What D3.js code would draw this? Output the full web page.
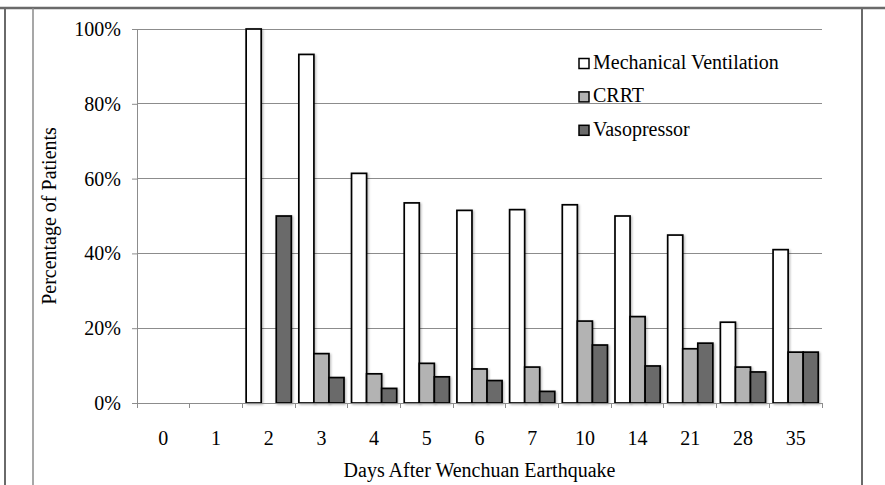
<!DOCTYPE html>
<html><head><meta charset="utf-8">
<script src="https://cdn.jsdelivr.net/npm/d3@7"></script>
<style>body{margin:0;background:#fff} svg{display:block;font-family:'Liberation Serif','Times New Roman',serif} svg text{font-family:'Liberation Serif','Times New Roman',serif}</style>
</head><body><svg id="chart" width="885" height="485"></svg>
<script>
// Share of patients receiving each organ support, by day after the earthquake
const days = ["0","1","2","3","4","5","6","7","10","14","21","28","35"];
const seriesNames = ["Mechanical Ventilation","CRRT","Vasopressor"];
const ventilation = [0,0,100,93.2,61.4,53.5,51.5,51.7,53.0,50.0,44.9,21.6,41.0];
const crrt        = [0,0,0,13.2,7.8,10.6,9.1,9.6,21.9,23.1,14.5,9.6,13.6];
const vasopressor = [0,0,50,6.8,3.9,7.0,6.0,3.1,15.5,9.9,16.0,8.3,13.6];
const yTicks = [0,20,40,60,80,100];
const colors = ["#ffffff","#b3b3b3","#6b6b6b"];

const svg = d3.select("#chart");
const font = "'Liberation Serif','Times New Roman',serif";
const m = {left:137, right:822, top:29, bottom:403};

// page frame lines
const frame = svg.append("g").attr("fill","none");
frame.append("line").attr("x1",0).attr("x2",885).attr("y1",8).attr("y2",8).attr("stroke","#6a6a6a").attr("stroke-width",2.5);
frame.append("line").attr("x1",5).attr("x2",5).attr("y1",7).attr("y2",485).attr("stroke","#6a6a6a").attr("stroke-width",2);
frame.append("line").attr("x1",33).attr("x2",33).attr("y1",8).attr("y2",485).attr("stroke","#8a8a8a").attr("stroke-width",1.5);
frame.append("line").attr("x1",862).attr("x2",862).attr("y1",7).attr("y2",485).attr("stroke","#6a6a6a").attr("stroke-width",2);

// soft shadow under bars
const defs = svg.append("defs");
const f = defs.append("filter").attr("id","shadow").attr("x","-30%").attr("y","-10%").attr("width","160%").attr("height","120%");
f.append("feDropShadow").attr("dx",1.2).attr("dy",1).attr("stdDeviation",1.2).attr("flood-color","#000").attr("flood-opacity",0.28);

const x0 = d3.scaleBand().domain(days).range([m.left, m.right]);
const x1 = d3.scaleBand().domain(seriesNames).range([0, x0.bandwidth()]).paddingInner(0).paddingOuter(0.25);
const y = d3.scaleLinear().domain([0,100]).range([m.bottom, m.top]);

// gridlines
svg.append("g").selectAll("line").data(yTicks.filter(t => t > 0)).join("line")
  .attr("x1", m.left).attr("x2", m.right)
  .attr("y1", d => y(d)).attr("y2", d => y(d))
  .attr("stroke","#8c8c8c").attr("stroke-width",1).attr("shape-rendering","crispEdges");

// y axis
const yAxis = svg.append("g").attr("transform",`translate(${m.left},0)`)
  .call(d3.axisLeft(y).tickValues(yTicks).tickFormat(d => d + "%").tickSize(5).tickPadding(11))
  .attr("font-family", font);
yAxis.select(".domain").attr("stroke","#8c8c8c");
yAxis.selectAll(".tick line").attr("stroke","#8c8c8c");
yAxis.selectAll("text").attr("font-family",font).attr("font-size",20).attr("fill","#000");

// bars
const seriesData = [ventilation, crrt, vasopressor];
const groups = svg.append("g").selectAll("g").data(seriesData).join("g")
  .attr("fill", (d,i) => colors[i]).attr("filter","url(#shadow)");
groups.each(function(vals, si){
  d3.select(this).selectAll("rect")
    .data(vals.map((v,i) => ({day: days[i], v})).filter(d => d.v > 0))
    .join("rect")
    .attr("x", d => x0(d.day) + x1(seriesNames[si]))
    .attr("width", x1.bandwidth())
    .attr("y", d => y(d.v))
    .attr("height", d => y(0) - y(d.v))
    .attr("stroke","#000").attr("stroke-width",1.7);
});

// x axis with ticks at category boundaries
svg.append("line").attr("x1",m.left).attr("x2",m.right).attr("y1",m.bottom).attr("y2",m.bottom)
  .attr("stroke","#8c8c8c").attr("shape-rendering","crispEdges");
const bounds = days.map(d => x0(d)).concat([m.right]);
svg.append("g").selectAll("line").data(bounds).join("line")
  .attr("x1", d => d).attr("x2", d => d).attr("y1", m.bottom).attr("y2", m.bottom + 5)
  .attr("stroke","#8c8c8c").attr("shape-rendering","crispEdges");
svg.append("g").selectAll("text").data(days).join("text")
  .attr("x", d => x0(d) + x0.bandwidth()/2).attr("y", 445)
  .attr("text-anchor","middle").attr("font-family",font).attr("font-size",20).attr("fill","#000")
  .text(d => d);

// axis titles
svg.append("text").attr("x", (m.left+m.right)/2).attr("y", 477)
  .attr("text-anchor","middle").attr("font-family",font).attr("font-size",20)
  .text("Days After Wenchuan Earthquake");
svg.append("text").attr("transform",`translate(56,${(m.top+m.bottom)/2}) rotate(-90)`)
  .attr("text-anchor","middle").attr("font-family",font).attr("font-size",20)
  .text("Percentage of Patients");

// legend
const legend = svg.append("g").attr("font-family", font).selectAll("g").data(seriesNames).join("g")
  .attr("transform", (d,i) => `translate(579,${63.5 + i*33.4})`);
legend.append("rect").attr("x",0).attr("y",-5).attr("width",10).attr("height",10)
  .attr("fill", (d,i) => colors[i]).attr("stroke","#000").attr("stroke-width",1.5);
legend.append("text").attr("x",14).attr("y",5.5).attr("font-family",font).attr("font-size",20)
  .attr("fill","#000")
  .text(d => d);
</script></body></html>
